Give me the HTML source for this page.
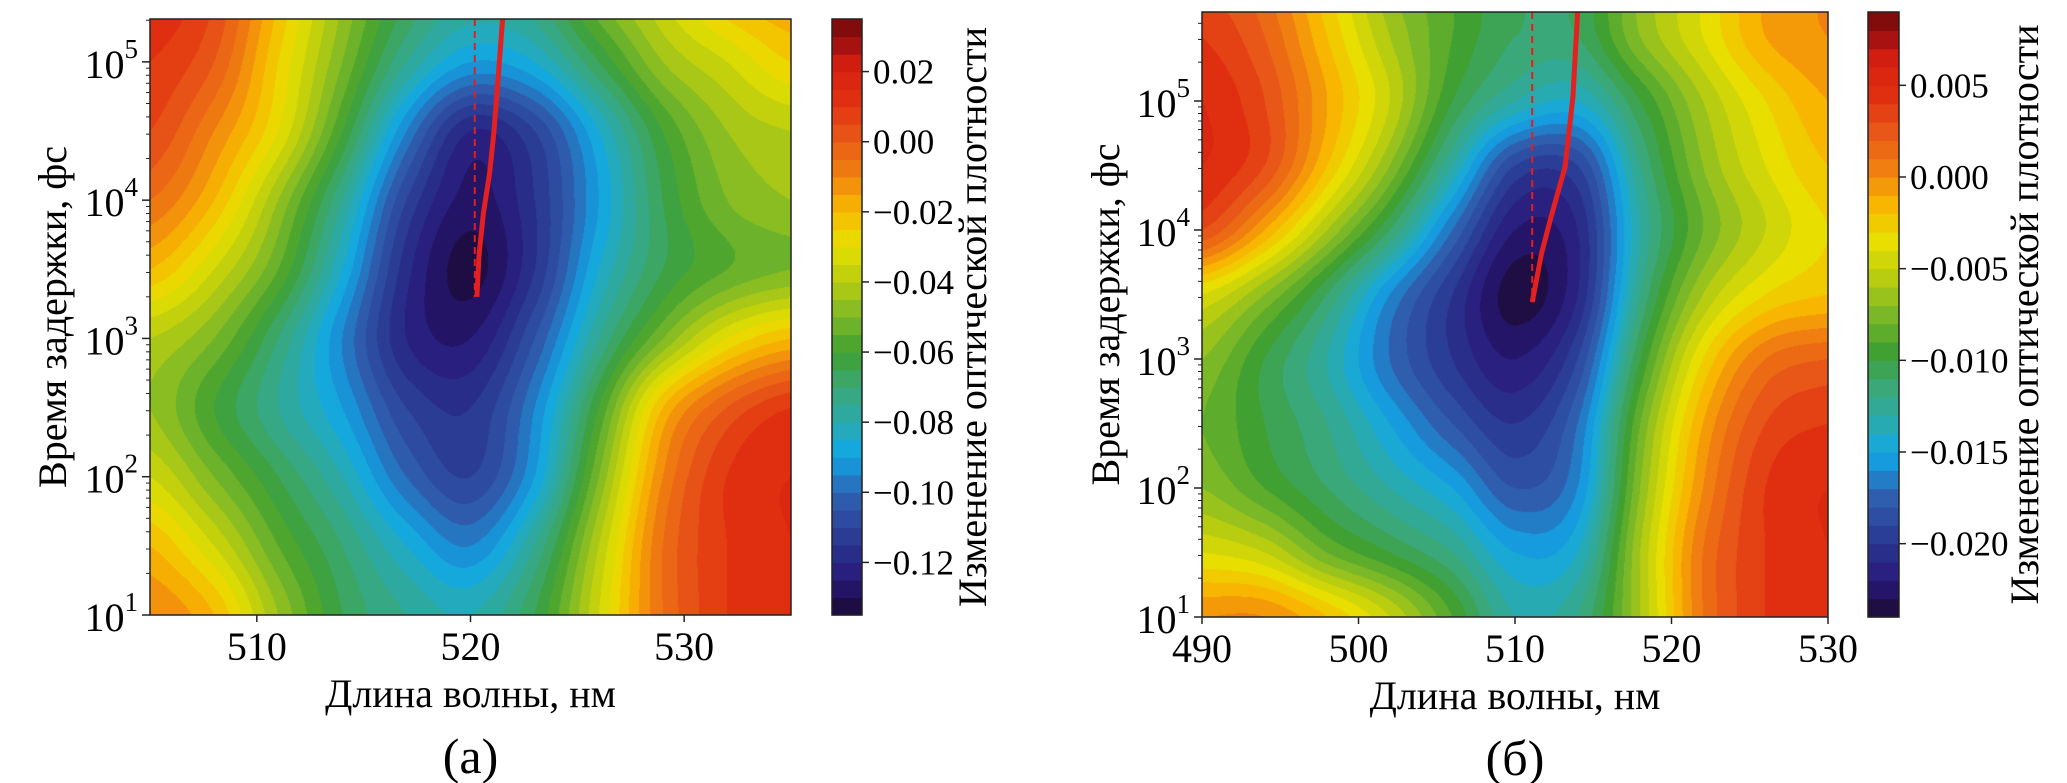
<!DOCTYPE html>
<html><head><meta charset="utf-8">
<style>
html,body{margin:0;padding:0;background:#fff;}
#root{position:relative;width:2067px;height:783px;overflow:hidden;background:#fff;}
canvas{position:absolute;}
svg{position:absolute;left:0;top:0;}
</style></head>
<body>
<div id="root">
<canvas id="heatA"></canvas>
<canvas id="heatB"></canvas>
<svg id="ov" width="2067" height="783"></svg>
</div>
<script>
// ---------- data: panel (a) ----------
const waveA=[505,508,511,514,517,520,523,526,529,532,535];
const logTA=[1,1.5,2,2.5,3,3.5,4,4.5,5,5.5];
const valsA=[
[-0.01,-0.02,-0.045,-0.065,-0.075,-0.08,-0.065,-0.035,-0.005,0.01,0.015],
[-0.02,-0.035,-0.055,-0.07,-0.085,-0.095,-0.075,-0.04,-0.005,0.01,0.015],
[-0.035,-0.05,-0.065,-0.08,-0.1,-0.11,-0.09,-0.05,-0.01,0.01,0.015],
[-0.045,-0.06,-0.075,-0.09,-0.11,-0.115,-0.095,-0.06,-0.02,0.0,0.01],
[-0.04,-0.05,-0.07,-0.095,-0.12,-0.125,-0.105,-0.075,-0.05,-0.03,-0.02],
[-0.02,-0.035,-0.055,-0.085,-0.118,-0.132,-0.115,-0.085,-0.065,-0.055,-0.05],
[-0.005,-0.02,-0.045,-0.075,-0.11,-0.127,-0.115,-0.09,-0.065,-0.05,-0.045],
[0.005,-0.01,-0.03,-0.06,-0.095,-0.12,-0.11,-0.085,-0.06,-0.045,-0.04],
[0.01,0.0,-0.025,-0.05,-0.075,-0.09,-0.085,-0.065,-0.045,-0.035,-0.025],
[0.015,0.005,-0.02,-0.045,-0.065,-0.075,-0.07,-0.05,-0.035,-0.02,-0.015]];
const xTicksA=[510,520,530];
const cbTicksA=[0.02,0.00,-0.02,-0.04,-0.06,-0.08,-0.10,-0.12];
const cbLabelsA=["0.02","0.00","\u22120.02","\u22120.04","\u22120.06","\u22120.08","\u22120.10","\u22120.12"];
const peakWaveA=[520.3,520.4,520.6,520.9,521.1,521.3,521.4,521.5];
const peakLogTA=[3.3,3.6,3.9,4.2,4.5,4.9,5.1,5.31];
const dashWaveA=520.2;

// ---------- data: panel (b) ----------
const waveB=[490,494,498,502,506,510,514,518,522,526,530];
const logTB=[1,1.5,2,2.5,3,3.5,4,4.5,5,5.5,6];
const valsB=[
[0.0,0.0,-0.002,-0.005,-0.009,-0.013,-0.012,-0.006,0.001,0.004,0.005],
[-0.004,-0.005,-0.008,-0.01,-0.012,-0.015,-0.014,-0.006,0.001,0.004,0.005],
[-0.007,-0.009,-0.011,-0.013,-0.015,-0.018,-0.016,-0.007,0.0,0.004,0.005],
[-0.008,-0.01,-0.012,-0.015,-0.018,-0.02,-0.017,-0.008,-0.001,0.003,0.004],
[-0.007,-0.01,-0.013,-0.017,-0.02,-0.022,-0.019,-0.01,-0.003,0.001,0.002],
[-0.004,-0.007,-0.011,-0.016,-0.02,-0.0235,-0.021,-0.012,-0.006,-0.003,-0.002],
[0.003,-0.001,-0.006,-0.011,-0.017,-0.022,-0.021,-0.013,-0.008,-0.005,-0.003],
[0.005,0.003,-0.002,-0.007,-0.013,-0.019,-0.019,-0.012,-0.007,-0.004,-0.002],
[0.005,0.003,-0.001,-0.005,-0.010,-0.013,-0.014,-0.01,-0.006,-0.003,-0.001],
[0.004,0.002,-0.002,-0.006,-0.009,-0.011,-0.011,-0.007,-0.004,-0.001,0.0],
[0.003,0.001,-0.003,-0.007,-0.009,-0.011,-0.011,-0.007,-0.004,-0.001,0.0]];
const xTicksB=[490,500,510,520,530];
const cbTicksB=[0.005,0.0,-0.005,-0.010,-0.015,-0.020];
const cbLabelsB=["0.005","0.000","\u22120.005","\u22120.010","\u22120.015","\u22120.020"];
const peakWaveB=[511.1,511.7,512.3,513.2,513.7,514.0];
const peakLogTB=[3.44,3.82,4.1,4.49,5.03,5.69];
const dashWaveB=511.1;

const yDecades=[1,2,3,4,5];

const FONT='"Liberation Serif", "Noto Serif CJK SC", serif';
const cmapF=[0,0.06,0.12,0.20,0.27,0.32,0.38,0.44,0.50,0.56,0.62,0.68,0.74,0.80,0.86,0.92,0.96,1];
const cmapC=["#1a0a30","#28187a","#2a3590","#2f60b0","#10a8e8","#28aab0","#3aa878","#40a030","#7ab828","#b8cc10","#e8e000","#f8b800","#f08010","#e85818","#e03010","#d82010","#a01010","#700808"];
function hex(c){return [parseInt(c.substr(1,2),16),parseInt(c.substr(3,2),16),parseInt(c.substr(5,2),16)];}
const cmapRGB=cmapC.map(hex);
function cmap(f){
  f=Math.max(0,Math.min(1,f));
  for(let i=0;i<cmapF.length-1;i++){
    if(f<=cmapF[i+1]){const t=(f-cmapF[i])/(cmapF[i+1]-cmapF[i]);const a=cmapRGB[i],b=cmapRGB[i+1];
      return [a[0]+(b[0]-a[0])*t,a[1]+(b[1]-a[1])*t,a[2]+(b[2]-a[2])*t];}
  }
  return cmapRGB[cmapRGB.length-1];
}
function rgbStr(c){return 'rgb('+Math.round(c[0])+','+Math.round(c[1])+','+Math.round(c[2])+')';}

const NS='http://www.w3.org/2000/svg';
const ov=document.getElementById('ov');
function el(tag,attrs,parent){const e=document.createElementNS(NS,tag);for(const k in attrs)e.setAttribute(k,attrs[k]);if(tag==='text')e.setAttribute('font-family',FONT);(parent||ov).appendChild(e);return e;}

function interp(arr,v){
  if(v<=arr[0])return 0;
  for(let i=0;i<arr.length-1;i++){if(v<=arr[i+1])return i+(v-arr[i])/(arr[i+1]-arr[i]);}
  return arr.length-1;
}
function cr(p0,p1,p2,p3,t){
  return 0.5*((2*p1)+(-p0+p2)*t+(2*p0-5*p1+4*p2-p3)*t*t+(-p0+3*p1-3*p2+p3)*t*t*t);
}
function sample(waves,logs,vals,w,lt){
  const xi=interp(waves,w),yi=interp(logs,lt);
  const nx=waves.length,ny=logs.length;
  const x0=Math.min(Math.floor(xi),nx-2),y0=Math.min(Math.floor(yi),ny-2);
  const tx=xi-x0,ty=yi-y0;
  const cx=i=>Math.max(0,Math.min(nx-1,i)),cy=j=>Math.max(0,Math.min(ny-1,j));
  const rows=[];
  for(let j=-1;j<=2;j++){const r=vals[cy(y0+j)];rows.push(cr(r[cx(x0-1)],r[cx(x0)],r[cx(x0+1)],r[cx(x0+2)],tx));}
  return cr(rows[0],rows[1],rows[2],rows[3],ty);
}

function panel(cfg){
  const {canvasId,L,R,T,B,w0,w1,lt0,lt1,waves,logs,vals,vmin,vmax,step,xTicks,cbX,cbW,cbTicks,cbLabels,peakW,peakT,dashW,tag,ylabX,cbLabX,letter}=cfg;
  const xS=w=>L+(w-w0)/(w1-w0)*(R-L);
  const yS=lt=>B-(lt-lt0)/(lt1-lt0)*(B-T);
  const cbY=v=>B-(v-vmin)/(vmax-vmin)*(B-T);
  const cv=document.getElementById(canvasId);
  const W=R-L,H=B-T;cv.width=W;cv.height=H;cv.style.left=L+'px';cv.style.top=T+'px';
  const ctx=cv.getContext('2d');const img=ctx.createImageData(W,H);
  const nb=Math.round((vmax-vmin)/step);
  for(let py=0;py<H;py++){
    const lt=lt1-(py+0.5)/H*(lt1-lt0);
    for(let px=0;px<W;px++){
      const w=w0+(px+0.5)/W*(w1-w0);
      let v=sample(waves,logs,vals,w,lt);
      let lv=Math.floor((v-vmin)/step);lv=Math.max(0,Math.min(nb-1,lv));
      const c=cmap((lv+0.5)/nb);
      const k=(py*W+px)*4;img.data[k]=c[0];img.data[k+1]=c[1];img.data[k+2]=c[2];img.data[k+3]=255;
    }
  }
  ctx.putImageData(img,0,0);
  let d='';
  for(let i=0;i<peakW.length;i++){d+=(i?'L':'M')+xS(peakW[i]).toFixed(1)+' '+yS(peakT[i]).toFixed(1);}
  const dash=el('line',{x1:xS(dashW),x2:xS(dashW),y1:T,y2:yS(peakT[0]),stroke:'#e02020','stroke-width':2,'stroke-dasharray':'7,5'});
  
  
  const pl=el('path',{d:d,fill:'none',stroke:'#e42020','stroke-width':5,'stroke-linejoin':'round'});
  
  
  const fr=el('rect',{x:L,y:T,width:R-L,height:B-T,fill:'none',stroke:'#222','stroke-width':1.5});
  
  
  xTicks.forEach(t=>{
    const x=xS(t);
    el('line',{x1:x,x2:x,y1:B,y2:B+7,stroke:'#222','stroke-width':1.5});
    const tx=el('text',{x:x,y:B+45,'font-size':40,'text-anchor':'middle'});tx.textContent=t;
    
    
  });
  yDecades.forEach(dc=>{
    const y=yS(dc);
    el('line',{x1:L-8,x2:L,y1:y,y2:y,stroke:'#222','stroke-width':1.5});
    const tx=el('text',{x:L-12,y:y+16,'font-size':40,'text-anchor':'end'});
    const base=document.createElementNS(NS,'tspan');base.textContent='10';tx.appendChild(base);
    const sup=document.createElementNS(NS,'tspan');sup.setAttribute('font-size','27');sup.setAttribute('dy','-20');sup.textContent=dc;tx.appendChild(sup);
    
    
  });
  for(let dc=0;dc<=6;dc++){for(let m=2;m<=9;m++){const lt=dc+Math.log10(m);if(lt>lt0&&lt<lt1){const y=yS(lt);el('line',{x1:L-4,x2:L,y1:y,y2:y,stroke:'#222','stroke-width':1});}}}
  const xl=el('text',{x:(L+R)/2,y:B+92,'font-size':40,'text-anchor':'middle'});xl.textContent='Длина волны, нм';
  
  
  const yc=(T+B)/2;
  const yl=el('text',{x:ylabX,y:yc,'font-size':40,'text-anchor':'middle',transform:'rotate(-90 '+ylabX+' '+yc+')',dy:14});yl.textContent='Время задержки, фс';
  
  
  const pl2=el('text',{x:(L+R)/2,y:B+158,'font-size':50,'text-anchor':'middle'});pl2.textContent=letter;
  
  
  for(let i=0;i<nb;i++){
    const v0=vmin+i*step,v1=v0+step;
    const r=el('rect',{x:cbX,y:cbY(v1),width:cbW,height:cbY(v0)-cbY(v1)+0.6,fill:rgbStr(cmap((i+0.5)/nb))});
    
    
  }
  const cbf=el('rect',{x:cbX,y:T,width:cbW,height:B-T,fill:'none',stroke:'#222','stroke-width':1.5});
  
  
  cbTicks.forEach((t,i)=>{
    const y=cbY(t);
    el('line',{x1:cbX+cbW,x2:cbX+cbW+7,y1:y,y2:y,stroke:'#222','stroke-width':1.5});
    const tx=el('text',{x:cbX+cbW+11,y:y+12,'font-size':35});tx.textContent=cbLabels[i];
    
    
  });
  const cl=el('text',{x:cbLabX,y:yc,'font-size':40,'text-anchor':'middle',transform:'rotate(-90 '+cbLabX+' '+yc+')',dy:14});cl.textContent='Изменение оптической плотности';
  
  
}

panel({canvasId:'heatA',L:150,R:791,T:19,B:615,w0:505,w1:535,lt0:1,lt1:5.31,waves:waveA,logs:logTA,vals:valsA,
  vmin:-0.135,vmax:0.035,step:0.005,xTicks:xTicksA,cbX:832,cbW:30,cbTicks:cbTicksA,cbLabels:cbLabelsA,
  peakW:peakWaveA,peakT:peakLogTA,dashW:dashWaveA,tag:'a',ylabX:52,cbLabX:972,letter:'(a)'});
panel({canvasId:'heatB',L:1202,R:1828,T:12,B:617,w0:490,w1:530,lt0:1,lt1:5.69,waves:waveB,logs:logTB,vals:valsB,
  vmin:-0.024,vmax:0.009,step:0.001,xTicks:xTicksB,cbX:1868,cbW:31,cbTicks:cbTicksB,cbLabels:cbLabelsB,
  peakW:peakWaveB,peakT:peakLogTB,dashW:dashWaveB,tag:'b',ylabX:1105,cbLabX:2024,letter:'(б)'});
</script>
</body></html>
